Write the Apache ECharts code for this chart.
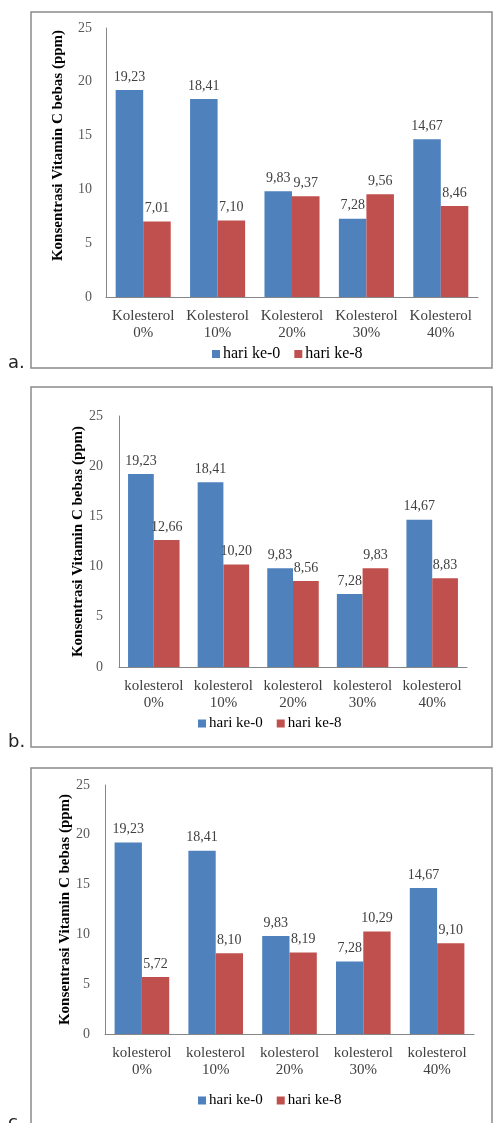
<!DOCTYPE html>
<html>
<head>
<meta charset="utf-8">
<script src="https://cdn.jsdelivr.net/npm/echarts@6/dist/echarts.min.js"></script>
<style>
html,body{margin:0;padding:0;background:#fff;}
#chart{width:493px;height:1123px;}
</style>
</head>
<body>
<div id="chart"></div>
<script>
// ---- data ----
var categoriesA = ['Kolesterol\n0%', 'Kolesterol\n10%', 'Kolesterol\n20%', 'Kolesterol\n30%', 'Kolesterol\n40%'];
var categoriesBC = ['kolesterol\n0%', 'kolesterol\n10%', 'kolesterol\n20%', 'kolesterol\n30%', 'kolesterol\n40%'];
var seriesNames = ['hari ke-0', 'hari ke-8'];
var day0 = [19.23, 18.41, 9.83, 7.28, 14.67];
var day8A = [7.01, 7.10, 9.37, 9.56, 8.46];
var day8B = [12.66, 10.20, 8.56, 9.83, 8.83];
var day8C = [5.72, 8.10, 8.19, 10.29, 9.10];
var yTicks = [0, 5, 10, 15, 20, 25];
var yTitle = 'Konsentrasi Vitamin C bebas (ppm)';
var panelLabels = ['a.', 'b.', 'c.'];

// ---- layout / styles ----
var BLUE = '#4F81BD', RED = '#C0504D';
var SERIF = '"Liberation Serif", "DejaVu Serif", serif';
var grids = [
  {left: 106, top: 28, width: 372, height: 269},
  {left: 119, top: 416, width: 348, height: 251},
  {left: 105, top: 785, width: 369, height: 249}
];
var nameGaps = [40, 33, 32];
var namePads = [[0, 0, 0, 34], [0, 0, 0, 0], [0, 0, 0, 0]];
var labelMargins = [14, 16, 15];
var legendPos = [{left: 207, top: 341}, {left: 193, top: 711}, {left: 193, top: 1088}];
var legendFont = [16, 15, 15];
var boxes = [{y: 12, h: 356}, {y: 387, h: 360}, {y: 768, h: 400}];
var panelLabelY = [354, 733, 1114];
var cats = [categoriesA, categoriesBC, categoriesBC];
var red8 = [day8A, day8B, day8C];

function fmt(p) { return p.value.toFixed(2).replace('.', ','); }

var xAxes = [], yAxes = [], series = [], legends = [], graphics = [];
for (var i = 0; i < 3; i++) {
  xAxes.push({
    type: 'category', gridIndex: i, data: cats[i],
    axisLine: {lineStyle: {color: '#868686', width: 1}},
    axisTick: {show: false},
    axisLabel: {fontFamily: SERIF, fontSize: 15, color: '#404040', lineHeight: 17, margin: 11, interval: 0}
  });
  yAxes.push({
    type: 'value', gridIndex: i, min: yTicks[0], max: yTicks[yTicks.length - 1], interval: 5,
    name: yTitle, nameLocation: 'middle', nameGap: nameGaps[i], nameRotate: 90,
    nameMoveOverlap: false,
    nameTextStyle: {fontFamily: SERIF, fontSize: 15, fontWeight: 'bold', color: '#000', padding: namePads[i]},
    axisLine: {show: true, lineStyle: {color: '#868686', width: 1}},
    axisTick: {show: false},
    splitLine: {show: false},
    axisLabel: {fontFamily: SERIF, fontSize: 14, color: '#595959', margin: labelMargins[i]}
  });
  var lbl = {show: true, position: 'top', distance: 6, fontFamily: SERIF, fontSize: 14, color: '#404040', formatter: fmt};
  series.push({
    name: seriesNames[0], type: 'bar', xAxisIndex: i, yAxisIndex: i, data: day0,
    itemStyle: {color: BLUE}, barGap: '0%', barCategoryGap: '26%', label: lbl
  });
  series.push({
    name: seriesNames[1], type: 'bar', xAxisIndex: i, yAxisIndex: i, data: red8[i],
    itemStyle: {color: RED}, barGap: '0%', barCategoryGap: '26%', label: lbl
  });
  legends.push({
    data: seriesNames, left: legendPos[i].left, top: legendPos[i].top,
    itemWidth: 8, itemHeight: 8, itemGap: 14, icon: 'rect',
    textStyle: {fontFamily: SERIF, fontSize: legendFont[i], color: '#000', padding: [0, 0, 0, -2]}
  });
  graphics.push({
    type: 'rect', shape: {x: 31, y: boxes[i].y, width: 461, height: boxes[i].h},
    style: {fill: 'none', stroke: '#8a8a8a', lineWidth: 1.5}, silent: true
  });
  graphics.push({
    type: 'text', x: 8, y: panelLabelY[i],
    style: {text: panelLabels[i], font: '18px "DejaVu Sans", sans-serif', fill: '#222'}
  });
}

var chart = echarts.init(document.getElementById('chart'), null, {renderer: 'canvas'});
chart.setOption({
  animation: false,
  backgroundColor: '#fff',
  grid: grids,
  xAxis: xAxes,
  yAxis: yAxes,
  legend: legends,
  series: series,
  graphic: graphics
});
</script>
</body>
</html>
